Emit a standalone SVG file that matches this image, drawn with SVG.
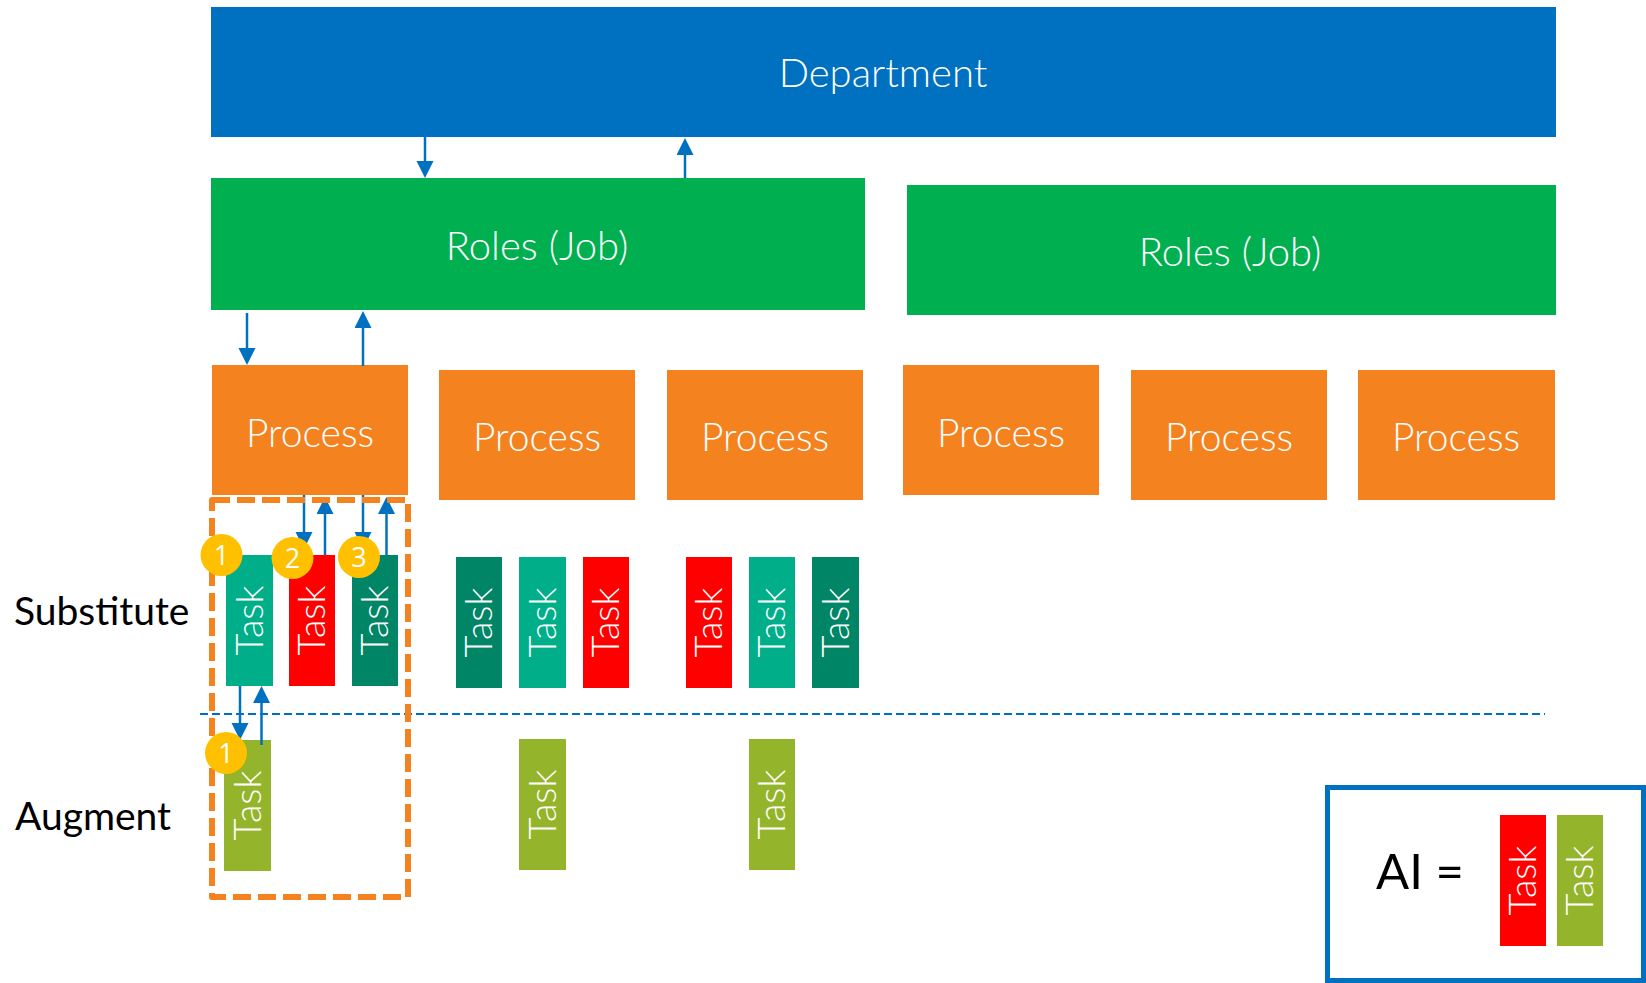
<svg xmlns="http://www.w3.org/2000/svg" width="1646" height="983" viewBox="0 0 1646 983">
<defs>
<style>
.lt{font-family:Lato,"Open Sans","Liberation Sans",sans-serif;font-weight:300;fill:#fff;text-anchor:middle}
.big{font-size:40px}
.proc{font-size:39px}
.task{font-size:38px}
.lbl{font-family:Lato,"Open Sans","Liberation Sans",sans-serif;font-size:39px;fill:#000}
.num{font-family:"Open Sans","Liberation Sans",sans-serif;font-size:27px;fill:#fff;text-anchor:middle}
.dept{fill:#0070C0}
.role{fill:#00B050}
.pr{fill:#F4821F}
.tl{fill:#00AE8A}
.td{fill:#008566}
.tr{fill:#FF0000}
.tg{fill:#94B42B}
.badge{fill:#FFC000}
.conn{stroke:#0070C0;stroke-width:2.5;fill:none;marker-end:url(#ah)}
</style>
<marker id="ah" markerUnits="userSpaceOnUse" markerWidth="18" markerHeight="18" refX="11" refY="8.5" orient="auto">
<path d="M0,0 L17,8.5 L0,17 z" fill="#0070C0"/>
</marker>
</defs>
<rect width="1646" height="983" fill="#fff"/>

<g id="department">
<rect class="dept" x="211" y="7" width="1345" height="130"/>
<text class="lt big" x="883" y="87">Department</text>
</g>

<g id="roles1">
<rect class="role" x="211" y="178" width="654" height="132"/>
<text class="lt big" x="537" y="260">Roles (Job)</text>
</g>
<g id="roles2">
<rect class="role" x="907" y="185" width="649" height="130"/>
<text class="lt big" x="1230" y="266">Roles (Job)</text>
</g>

<g id="process1"><rect class="pr" x="212" y="365" width="196" height="130"/><text class="lt proc" x="310" y="447">Process</text></g>
<g id="process2"><rect class="pr" x="439" y="370" width="196" height="130"/><text class="lt proc" x="537" y="451">Process</text></g>
<g id="process3"><rect class="pr" x="667" y="370" width="196" height="130"/><text class="lt proc" x="765" y="451">Process</text></g>
<g id="process4"><rect class="pr" x="903" y="365" width="196" height="130"/><text class="lt proc" x="1001" y="447">Process</text></g>
<g id="process5"><rect class="pr" x="1131" y="370" width="196" height="130"/><text class="lt proc" x="1229" y="451">Process</text></g>
<g id="process6"><rect class="pr" x="1358" y="370" width="197" height="130"/><text class="lt proc" x="1456" y="451">Process</text></g>

<g id="labels">
<text class="lbl" x="14" y="625">Substitute</text>
<text class="lbl" x="15" y="830">Augment</text>
</g>

<g id="divider">
<line x1="200" y1="714" x2="1545" y2="714" stroke="#0070C0" stroke-width="2" stroke-dasharray="8 4"/>
</g>

<g id="task-s1"><rect class="tl" x="226" y="555" width="47" height="131"/><text class="lt task" transform="translate(262.5,620.5) rotate(-90)">Task</text></g>
<g id="task-s2"><rect class="tr" x="289" y="555" width="46" height="131"/><text class="lt task" transform="translate(325,620.5) rotate(-90)">Task</text></g>
<g id="task-s3"><rect class="td" x="352" y="555" width="46" height="131"/><text class="lt task" transform="translate(388,620.5) rotate(-90)">Task</text></g>
<g id="task-s4"><rect class="td" x="456" y="557" width="46" height="131"/><text class="lt task" transform="translate(492,622.5) rotate(-90)">Task</text></g>
<g id="task-s5"><rect class="tl" x="519" y="557" width="47" height="131"/><text class="lt task" transform="translate(555.5,622.5) rotate(-90)">Task</text></g>
<g id="task-s6"><rect class="tr" x="583" y="557" width="46" height="131"/><text class="lt task" transform="translate(619,622.5) rotate(-90)">Task</text></g>
<g id="task-s7"><rect class="tr" x="686" y="557" width="46" height="131"/><text class="lt task" transform="translate(722,622.5) rotate(-90)">Task</text></g>
<g id="task-s8"><rect class="tl" x="749" y="557" width="46" height="131"/><text class="lt task" transform="translate(785,622.5) rotate(-90)">Task</text></g>
<g id="task-s9"><rect class="td" x="812" y="557" width="47" height="131"/><text class="lt task" transform="translate(848.5,622.5) rotate(-90)">Task</text></g>

<g id="task-a1"><rect class="tg" x="224" y="740" width="47" height="131"/><text class="lt task" transform="translate(260.5,805.5) rotate(-90)">Task</text></g>
<g id="task-a2"><rect class="tg" x="519" y="739" width="47" height="131"/><text class="lt task" transform="translate(555.5,804.5) rotate(-90)">Task</text></g>
<g id="task-a3"><rect class="tg" x="749" y="739" width="46" height="131"/><text class="lt task" transform="translate(785,804.5) rotate(-90)">Task</text></g>

<g id="connectors">
<line class="conn" x1="425" y1="137" x2="425" y2="172"/>
<line class="conn" x1="685" y1="178" x2="685" y2="144"/>
<line class="conn" x1="247" y1="313" x2="247" y2="359"/>
<line class="conn" x1="363" y1="366" x2="363" y2="317"/>
<line class="conn" x1="304" y1="495" x2="304" y2="543"/>
<line class="conn" x1="325" y1="555" x2="325" y2="503"/>
<line class="conn" x1="363" y1="495" x2="363" y2="543"/>
<line class="conn" x1="386.5" y1="555" x2="386.5" y2="503"/>
<line class="conn" x1="240" y1="686" x2="240" y2="734"/>
<line class="conn" x1="261.5" y1="745" x2="261.5" y2="692"/>
</g>

<g id="focus-box">
<rect x="212" y="500" width="196" height="397" fill="none" stroke="#F4821F" stroke-width="6" stroke-dasharray="18 7" stroke-linejoin="round"/>
</g>

<g id="badges">
<circle class="badge" cx="221.5" cy="555" r="21"/><text class="num" x="221.5" y="565">1</text>
<circle class="badge" cx="292.5" cy="558" r="21"/><text class="num" x="292.5" y="568">2</text>
<circle class="badge" cx="359" cy="557" r="21"/><text class="num" x="359" y="567">3</text>
<circle class="badge" cx="226" cy="753" r="21"/><text class="num" x="226" y="763">1</text>
</g>

<g id="legend">
<rect x="1327.5" y="787.5" width="316" height="193" fill="#fff" stroke="#0070C0" stroke-width="5"/>
<text class="lbl" x="1376" y="889" style="font-size:49px">AI =</text>
<rect class="tr" x="1500" y="815" width="46" height="131"/><text class="lt task" transform="translate(1536,880.5) rotate(-90)">Task</text>
<rect class="tg" x="1557" y="815" width="46" height="131"/><text class="lt task" transform="translate(1593,880.5) rotate(-90)">Task</text>
</g>
</svg>
